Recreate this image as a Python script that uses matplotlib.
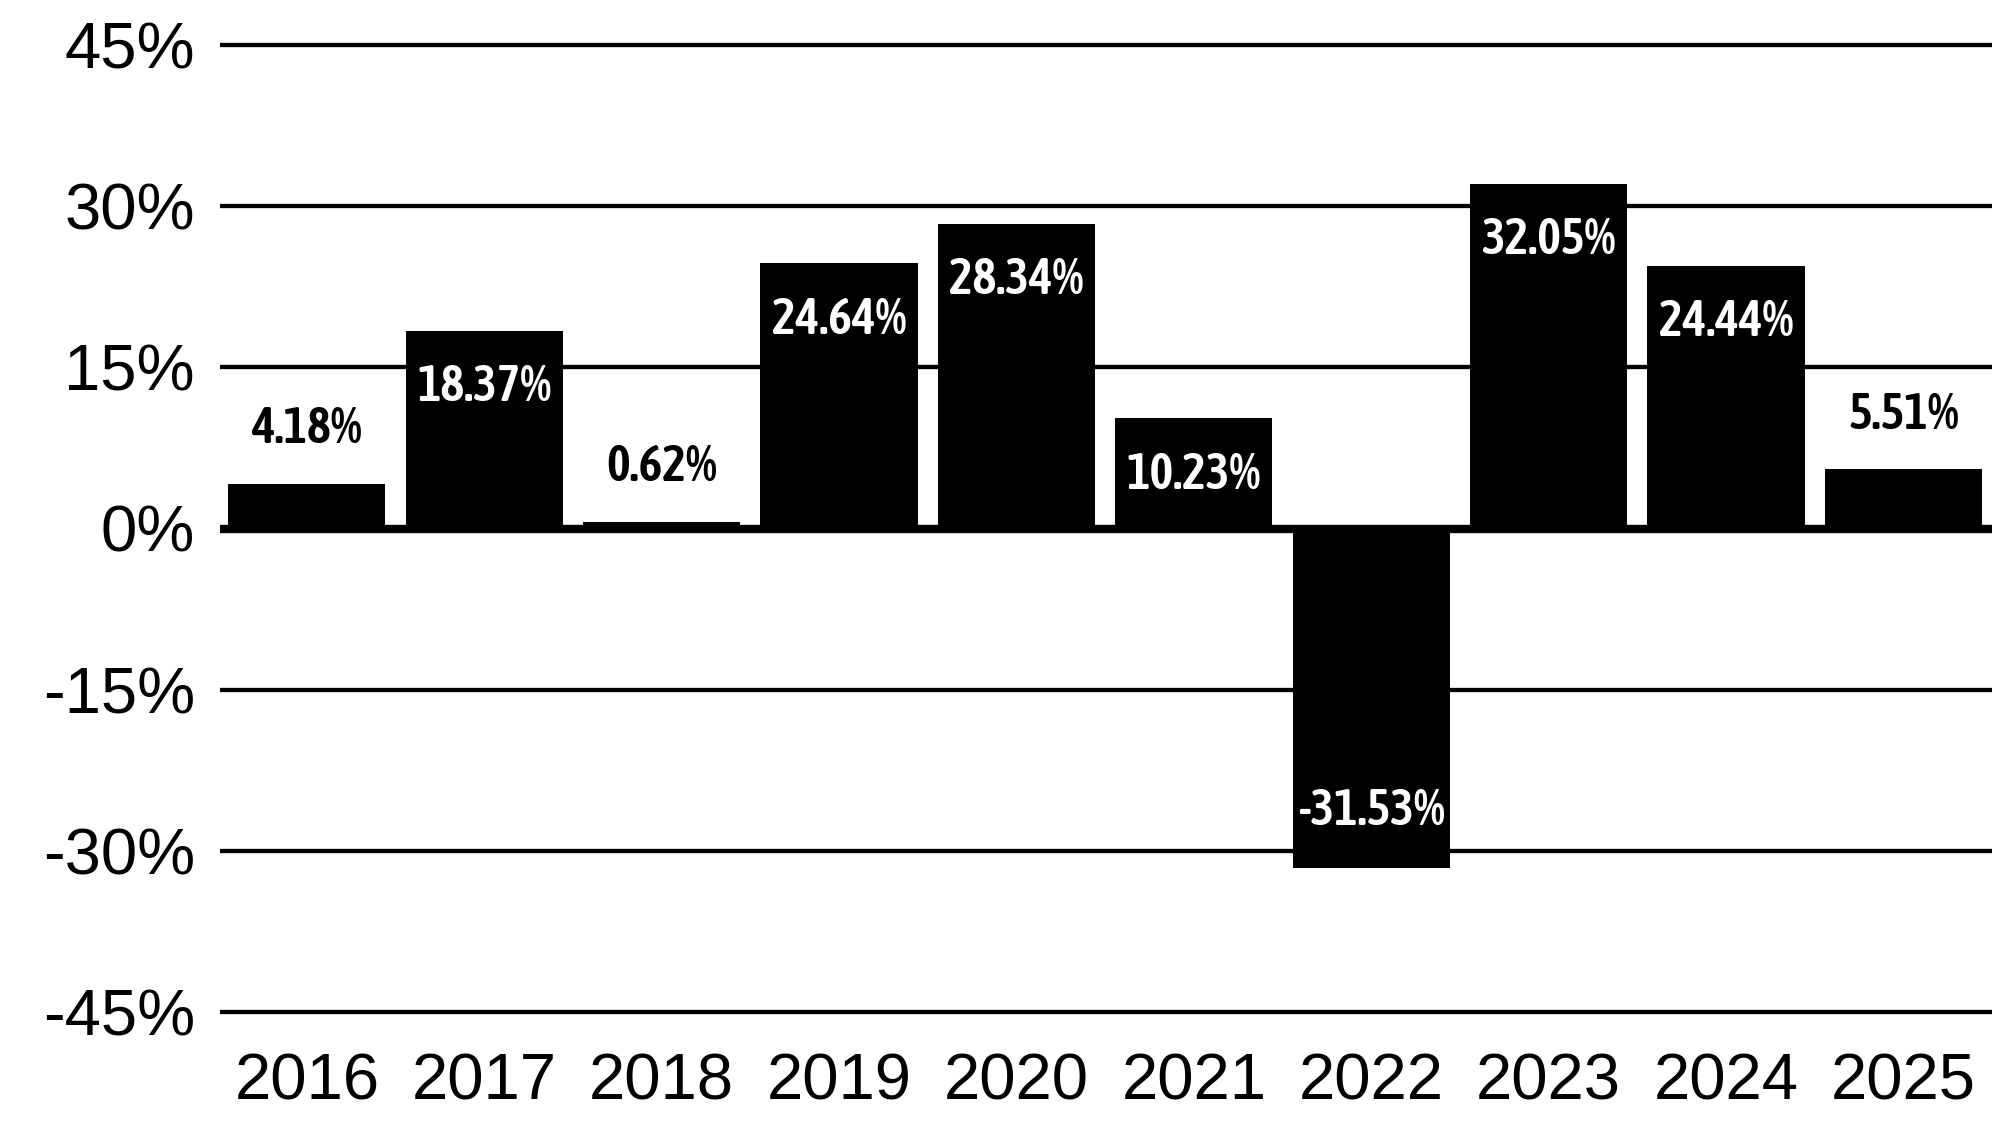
import matplotlib
matplotlib.use("Agg")
import matplotlib.pyplot as plt
import matplotlib.font_manager as fm
from matplotlib.textpath import TextPath
from matplotlib.transforms import offset_copy

# ---- data ----
years = ["2016", "2017", "2018", "2019", "2020", "2021", "2022", "2023", "2024", "2025"]
returns = [4.18, 18.37, 0.62, 24.64, 28.34, 10.23, -31.53, 32.05, 24.44, 5.51]
y_ticks = [-45, -30, -15, 0, 15, 30, 45]
y_tick_labels = ["-45%", "-30%", "-15%", "0%", "15%", "30%", "45%"]

# ---- fonts ----
names = {f.name for f in fm.fontManager.ttflist}
cands = []
for f in fm.fontManager.ttflist:
    key = (f.name + " " + f.fname).lower()
    if ("condensed" in key or "narrow" in key or
            f.stretch in ("condensed", "semi-condensed", "extra-condensed", "ultra-condensed")):
        if f.style != "normal" or "mono" in key or "cjk" in key:
            continue
        w = f.weight if isinstance(f.weight, int) else 400
        cands.append((abs(w - 600), f.fname))
cands.sort()
if cands:
    cond_fp = fm.FontProperties(fname=cands[0][1], size=10)
else:
    cond_fp = fm.FontProperties(family="Liberation Sans", weight="bold", size=10)

# size the value labels so "18.37%" is about 132 px wide, cap height <= 46 px
ext = TextPath((0, 0), "18.37%", prop=cond_fp).get_extents()
px_per_pt = 100 / 72
size_w = 10 * 132 / (ext.width * px_per_pt)
size_h = 10 * 46 / (ext.height * px_per_pt)
cond_fp.set_size(min(size_w, size_h))

tick_family = "Liberation Sans" if "Liberation Sans" in names else "DejaVu Sans"

fig = plt.figure(figsize=(19.92, 11.25), dpi=100)
ax = fig.add_axes([220 / 1992, 91 / 1125, 1772 / 1992, 1011 / 1125])

x = list(range(len(years)))
ax.bar(x, returns, width=0.886, color="black", zorder=2)

for yv in y_ticks:
    if yv == 0:
        ax.axhline(0, color="black", lw=6, zorder=3)
    else:
        ax.axhline(yv, color="black", lw=3.1, zorder=1)

ax.set_xlim(-0.49, 9.5)
ax.set_ylim(-47, 47)
ax.set_yticks(y_ticks)
ax.set_yticklabels(y_tick_labels)
ax.set_xticks(x)
ax.set_xticklabels(years)
for sp in ax.spines.values():
    sp.set_visible(False)
ax.tick_params(axis="both", length=0, labelsize=47, colors="black")
ax.tick_params(axis="y", pad=18)
ax.tick_params(axis="x", pad=13)
for lab in ax.get_xticklabels() + ax.get_yticklabels():
    lab.set_fontfamily(tick_family)

for xi, v in zip(x, returns):
    txt = f"{v:.2f}%"
    if v < 0:
        dy, col = 56, "white"
    elif v >= 10:
        dy, col = -57, "white"
    else:
        dy, col = 54, "black"
    tr = offset_copy(ax.transData, fig=fig, x=0, y=dy, units="dots")
    ax.text(xi, v, txt, transform=tr, ha="center", va="center",
            color=col, fontproperties=cond_fp, zorder=4)

fig.savefig("out.png", dpi=100, facecolor="white")
